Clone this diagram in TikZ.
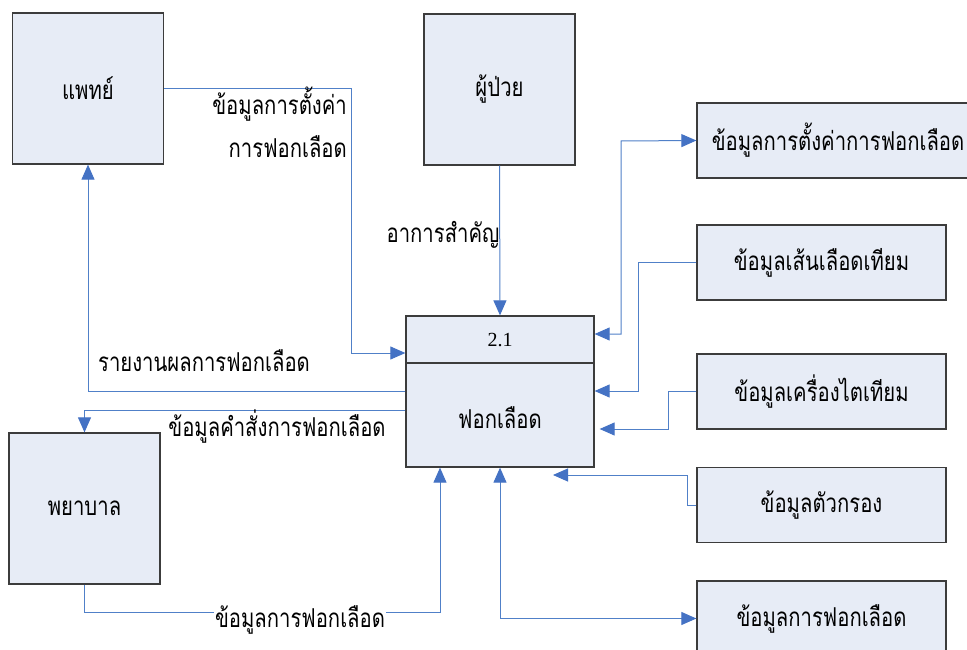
\documentclass[tikz,border=0pt]{standalone}
\usepackage{fontspec}
\newfontfamily\thaifont[Script=Thai,FakeStretch=0.78]{Loma}
\setmainfont{Liberation Serif}
\usetikzlibrary{arrows.meta}
\definecolor{boxfill}{RGB}{231,236,246}
\definecolor{boxline}{RGB}{60,60,60}
\definecolor{flowline}{RGB}{80,128,200}
\definecolor{tipfill}{RGB}{68,114,196}
\newcommand{\thsize}{\fontsize{26}{30}\selectfont}
\tikzset{
  ent/.style={draw=boxline,line width=1.3pt,fill=boxfill,minimum width=151pt,minimum height=151pt,inner sep=0pt,font=\thaifont\thsize},
  store/.style={draw=boxline,line width=1.3pt,fill=boxfill,minimum height=75pt,inner sep=0pt,font=\thaifont\thsize},
  proc/.style={draw=boxline,line width=1.3pt,fill=boxfill,minimum width=188pt,minimum height=151pt,inner sep=0pt},
  lbl/.style={inner sep=1pt,font=\thaifont\thsize},
  tip/.tip={Triangle[length=15pt,width=13pt,color=tipfill]},
  flow/.style={draw=flowline,line width=1pt,-tip},
  flow2/.style={draw=flowline,line width=1pt,tip-tip},
}
\begin{document}
\begin{tikzpicture}[x=1pt,y=-1pt]
\clip (0,0) rectangle (967,650);
\fill[white] (0,0) rectangle (967,650);
% entities
\node[ent] (doc) at (88,88.5) {แพทย์};
\node[ent] (pat) at (499.5,89.5) {ผู้ป่วย};
\node[ent] (nurse) at (84.5,508.5) {พยาบาล};
% process
\node[proc] (proc) at (500,391.5) {};
\draw[boxline,line width=1.3pt] (proc.west |- 0,363) -- (proc.east |- 0,363);
\node[font=\fontsize{20}{24}\selectfont] (pnum) at (500,340) {2.1};
\node[lbl] (pname) at (500,418) {ฟอกเลือด};
% data stores
\node[store,minimum width=282pt] (r1) at (838,140.5) {ข้อมูลการตั้งค่าการฟอกเลือด};
\node[store,minimum width=249pt] (r2) at (821.5,262.5) {ข้อมูลเส้นเลือดเทียม};
\node[store,minimum width=249pt] (r3) at (821.5,391.5) {ข้อมูลเครื่องไตเทียม};
\node[store,minimum width=249pt] (r4) at (821.5,505) {ข้อมูลตัวกรอง};
\node[store,minimum width=249pt] (r5) at (821.5,618.5) {ข้อมูลการฟอกเลือด};
% connectors
\draw[flow] (doc.east) -| (351,353) -- (proc.west |- 0,353);
\draw[flow] (proc.west |- 0,391) -| (doc.south);
\draw[flow] (proc.west |- 0,410) -| (nurse.north);
\draw[flow] (nurse.south) |- (440,612) -- (proc.south -| 440,0);
\draw[flow] (pat.south) -- (proc.north);
\draw[flow2] (proc.east |- 0,334) -| (621,141) -- (r1.west);
\draw[flow] (r2.west) -| (638,391) -- (proc.east |- 0,391);
\draw[flow,shorten >=5pt] (r3.west) -| (668,429) -- (proc.east |- 0,429);
\coordinate (t4) at (553,475);
\draw[flow] (r4.west) -| (687,475) -- (t4);
\draw[flow2] (proc.south) |- (r5.west);
% labels
\node[lbl,anchor=east] (l1a) at (348,104) {ข้อมูลการตั้งค่า};
\node[lbl,anchor=east] (l1b) at (348,147) {การฟอกเลือด};
\node[lbl] (l2) at (204,361) {รายงานผลการฟอกเลือด};
\node[lbl] (l3) at (277,427) {ข้อมูลคำสั่งการฟอกเลือด};
\node[lbl,fill=white] (l4) at (300,620) {ข้อมูลการฟอกเลือด};
\node[lbl] (l5) at (443,235) {อาการสำคัญ};
\end{tikzpicture}
\end{document}
